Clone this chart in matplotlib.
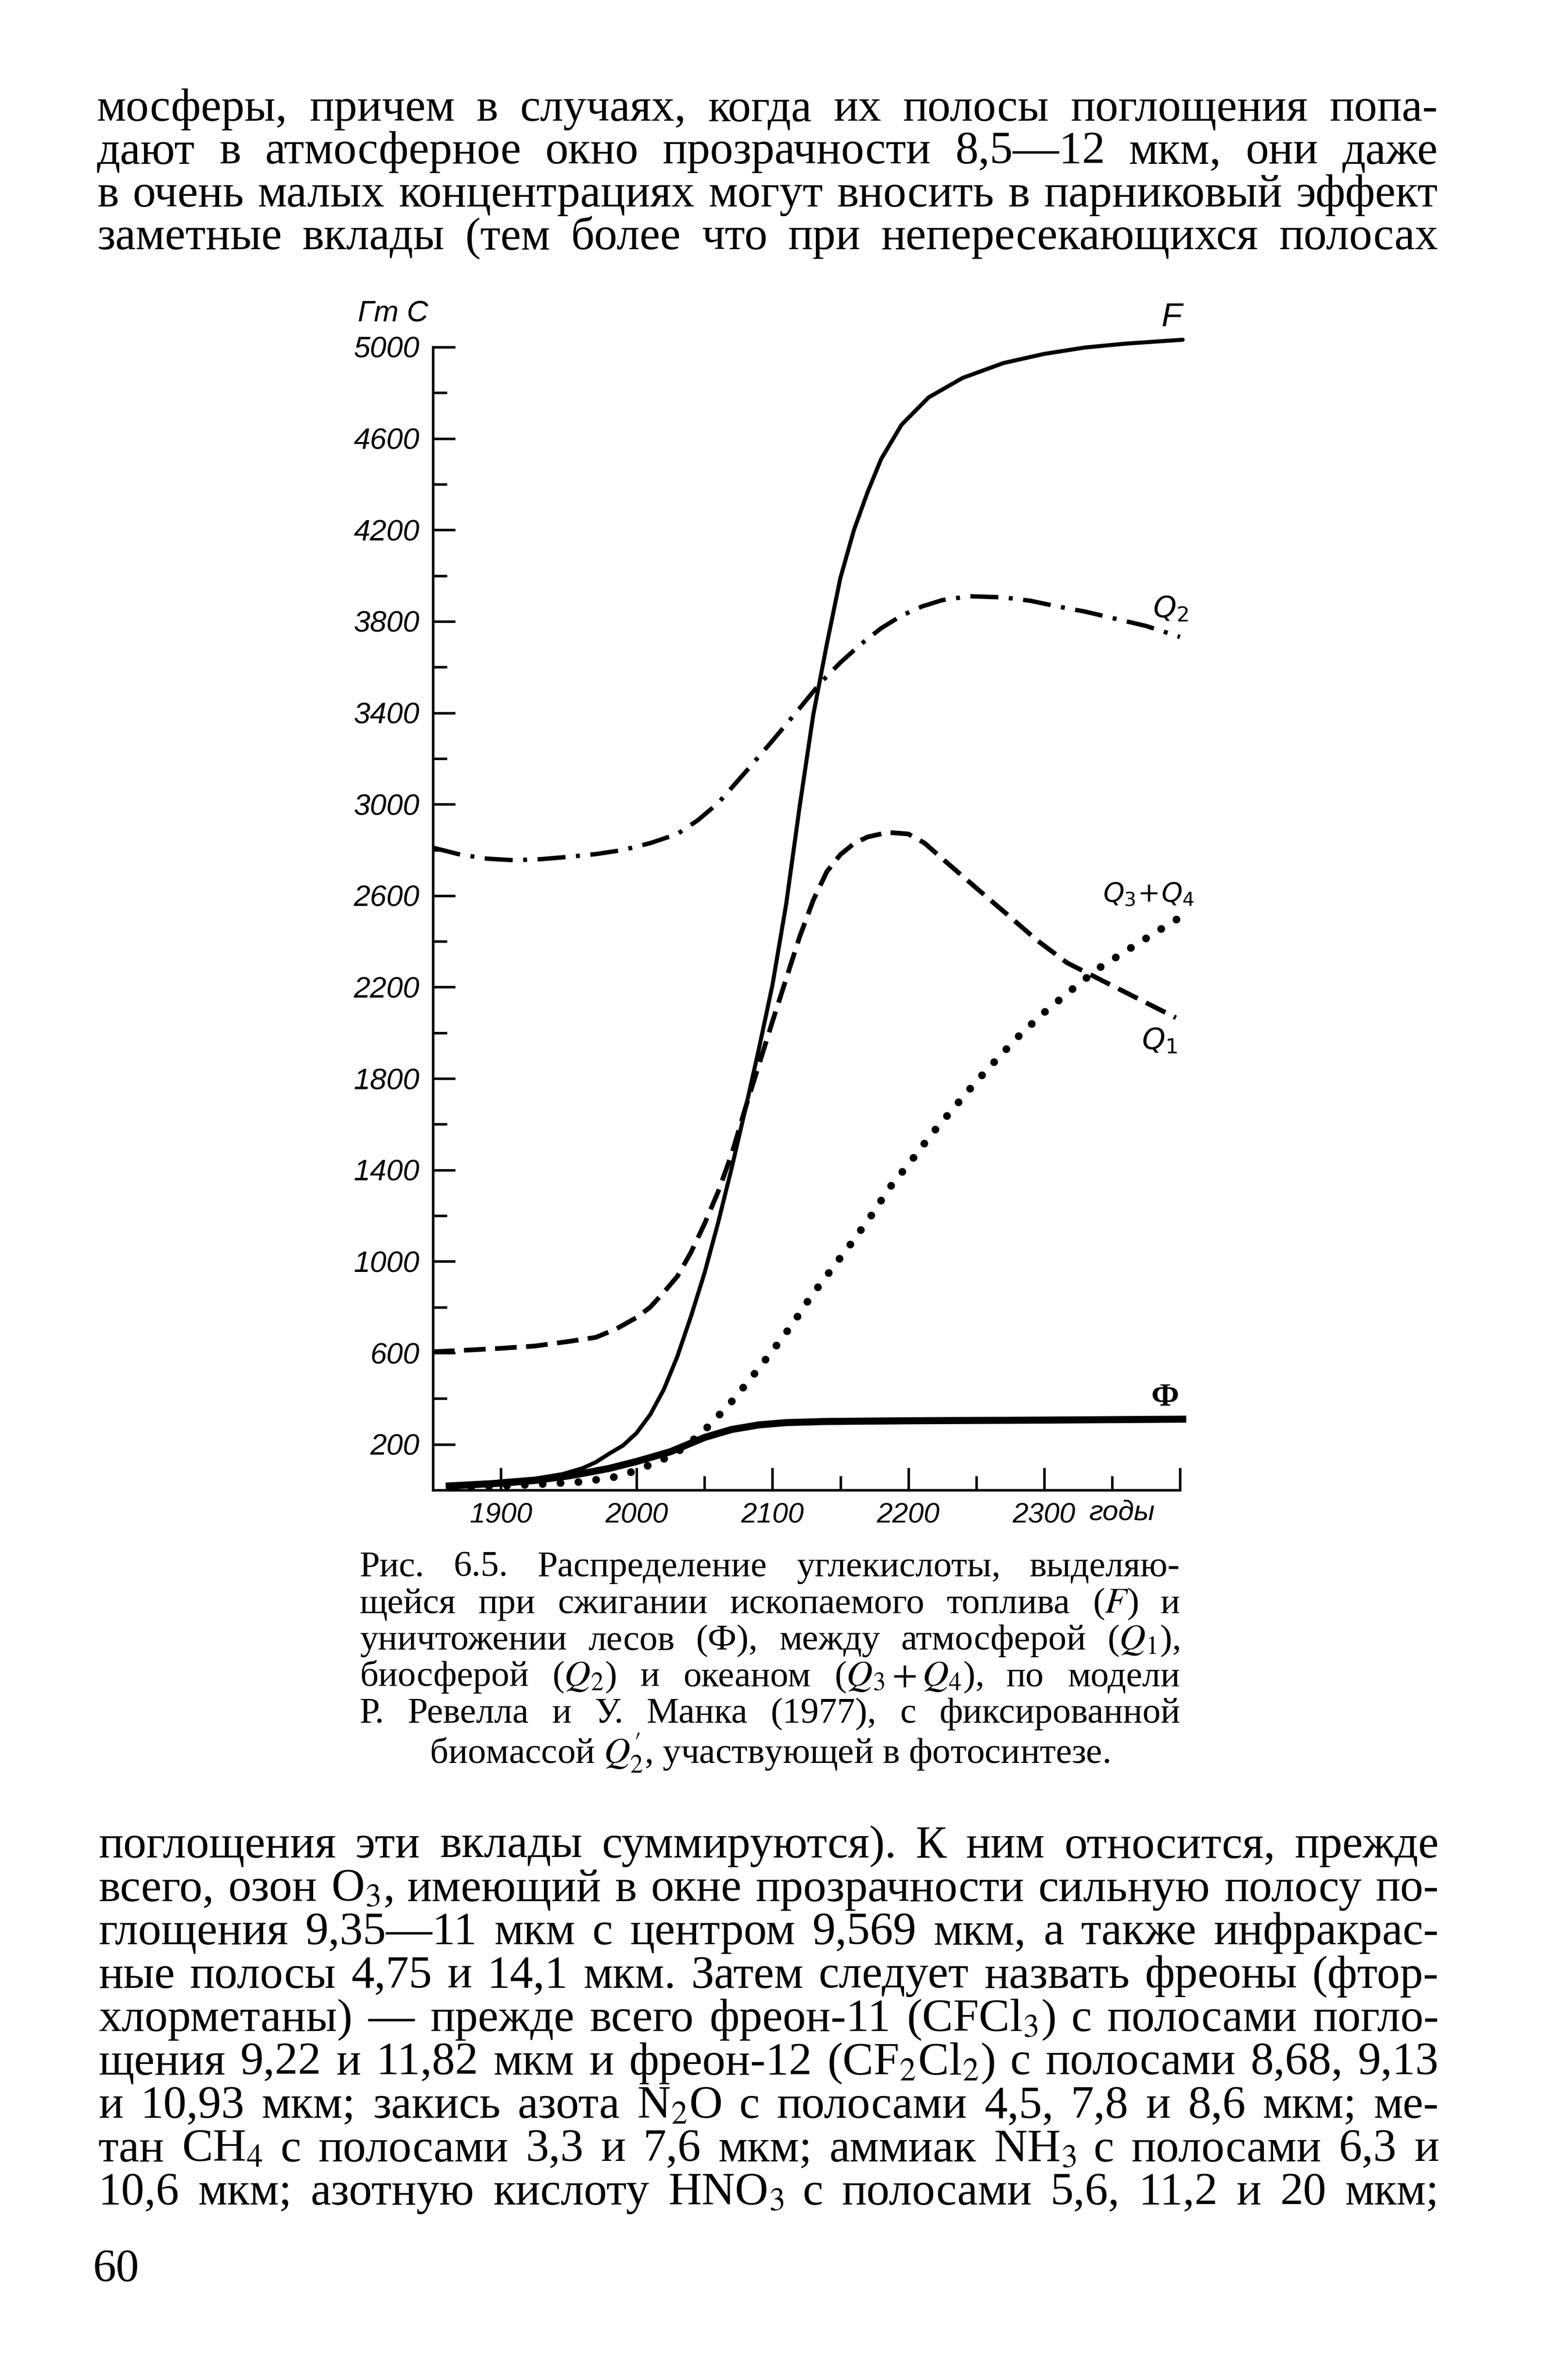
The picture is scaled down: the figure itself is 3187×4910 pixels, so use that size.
import matplotlib
matplotlib.use('Agg')
import matplotlib.pyplot as plt

W, H = 3187, 4910

# текст страницы
TOP_LINES = [
    "мосферы, причем в случаях, когда их полосы поглощения попа-",
    "дают в атмосферное окно прозрачности 8,5—12 мкм, они даже",
    "в очень малых концентрациях могут вносить в парниковый эффект",
    "заметные вклады (тем более что при непересекающихся полосах",
]
CAPTION_LINES = [
    "Рис. 6.5. Распределение углекислоты, выделяю-",
    "щейся при сжигании ископаемого топлива ($F$) и",
    "уничтожении лесов (Ф), между атмосферой ($Q_1$),",
    "биосферой ($Q_2$) и океаном ($Q_3+Q_4$), по модели",
    "Р. Ревелла и У. Манка (1977), с фиксированной",
]
CAPTION_LAST = r"биомассой $Q^{\prime}_2$, участвующей в фотосинтезе."
BOTTOM_LINES = [
    "поглощения эти вклады суммируются). К ним относится, прежде",
    "всего, озон O$_3$, имеющий в окне прозрачности сильную полосу по-",
    "глощения 9,35—11 мкм с центром 9,569 мкм, а также инфракрас-",
    "ные полосы 4,75 и 14,1 мкм. Затем следует назвать фреоны (фтор-",
    "хлорметаны) — прежде всего фреон-11 (CFCl$_3$) с полосами погло-",
    "щения 9,22 и 11,82 мкм и фреон-12 (CF$_2$Cl$_2$) с полосами 8,68, 9,13",
    "и 10,93 мкм; закись азота N$_2$O с полосами 4,5, 7,8 и 8,6 мкм; ме-",
    "тан CH$_4$ с полосами 3,3 и 7,6 мкм; аммиак NH$_3$ с полосами 6,3 и",
    "10,6 мкм; азотную кислоту HNO$_3$ с полосами 5,6, 11,2 и 20 мкм;",
]
PAGE_NO = "60"

# данные рисунка, Гт С по годам
F_YEARS = [1862, 1880, 1900, 1925, 1945, 1960, 1970, 1980, 1990, 2000, 2010, 2020,
           2030, 2040, 2050, 2060, 2070, 2080, 2090, 2100, 2110, 2120, 2130, 2140,
           2150, 2160, 2170, 2180, 2195, 2215, 2240, 2270, 2300, 2330, 2360, 2402]
F_VALS = [15, 25, 38, 50, 69, 95, 122, 160, 195, 250, 330, 440,
          585, 760, 950, 1170, 1410, 1665, 1930, 2210, 2560, 2990, 3390, 3700,
          3990, 4200, 4365, 4510, 4660, 4780, 4865, 4930, 4970, 4998, 5015, 5032]

PHI_YEARS = [1862, 1900, 1925, 1950, 1965, 1980, 2000, 2025, 2050, 2070, 2090,
             2110, 2140, 2200, 2300, 2402]
PHI_VALS = [18, 30, 42, 62, 78, 95, 125, 168, 230, 265, 285,
            295, 300, 303, 306, 310]

Q1_YEARS = [1850, 1875, 1900, 1925, 1950, 1970, 1985, 2000, 2010, 2020, 2030, 2040,
            2050, 2060, 2070, 2080, 2090, 2100, 2110, 2120, 2130, 2140, 2150, 2160,
            2170, 2185, 2200, 2212, 2226, 2249, 2272, 2295, 2317, 2340, 2363, 2397]
Q1_VALS = [605, 612, 620, 630, 650, 668, 705, 755, 800, 865, 935, 1040,
           1165, 1305, 1470, 1670, 1860, 2050, 2235, 2420, 2580, 2705, 2780, 2828,
           2857, 2877, 2870, 2830, 2757, 2639, 2522, 2404, 2306, 2237, 2168, 2066]

Q2_YEARS = [1850, 1870, 1890, 1910, 1930, 1950, 1970, 1990, 2010, 2030, 2045, 2060,
            2080, 2100, 2120, 2135, 2150, 2165, 2180, 2195, 2210, 2225, 2245, 2270,
            2290, 2310, 2330, 2350, 2375, 2400]
Q2_VALS = [2810, 2780, 2762, 2755, 2760, 2770, 2782, 2800, 2830, 2870, 2930, 3005,
           3140, 3278, 3420, 3529, 3620, 3700, 3770, 3825, 3865, 3893, 3910, 3905,
           3890, 3865, 3843, 3815, 3780, 3732]

Q34_YEARS = [1865, 1900, 1930, 1960, 1985, 2000, 2020, 2035, 2050, 2068, 2084, 2100,
             2115, 2128, 2143, 2158, 2173, 2186, 2202, 2217, 2233, 2249, 2266, 2283,
             2301, 2321, 2340, 2361, 2382, 2403]
Q34_VALS = [10, 18, 26, 36, 58, 86, 136, 185, 262, 373, 488, 609,
            728, 844, 962, 1079, 1203, 1321, 1439, 1556, 1668, 1780, 1890, 1996,
            2094, 2192, 2282, 2361, 2439, 2516]

Y_TICKS = list(range(200, 5001, 400))
Y_MINOR = list(range(400, 4801, 400))
X_TICKS = [1900, 2000, 2100, 2200, 2300, 2400]
X_LABELS = ['1900', '2000', '2100', '2200', '2300', '']
X_MINOR = [2050, 2150, 2250, 2350]

SERIF = ['Liberation Serif', 'DejaVu Serif']
SANS = ['Liberation Sans', 'DejaVu Sans']

plt.rcParams['font.family'] = SANS
plt.rcParams['mathtext.fontset'] = 'stix'

fig = plt.figure(figsize=(W / 100, H / 100), dpi=100)
fig.patch.set_facecolor('white')
renderer = fig.canvas.get_renderer()


def fy(y):
    # пиксель страницы сверху -> доля фигуры
    return 1 - y / H


def justify_block(lines, x0, x1, y0, step, max_size, min_gap=0.3):
    # выключка по ширине; кегль блока берётся по самой тесной строке
    rows = []
    size = max_size
    for i, line in enumerate(lines):
        words = line.split()
        texts = [fig.text(0, fy(y0 + step * i), w, fontsize=max_size, family=SERIF,
                          ha='left', va='baseline') for w in words]
        ww = sum(t.get_window_extent(renderer).width for t in texts)
        n = max(len(words) - 1, 1)
        # ширина слов растёт линейно с кеглем, пробел не меньше min_gap кегля
        s = (x1 - x0) / (ww / max_size + min_gap * 100 / 72 * n)
        size = min(size, s)
        rows.append(texts)
    for texts in rows:
        for t in texts:
            t.set_fontsize(size)
        widths = [t.get_window_extent(renderer).width for t in texts]
        gap = (x1 - x0 - sum(widths)) / max(len(texts) - 1, 1)
        x = x0
        for t, w in zip(texts, widths):
            t.set_x(x / W)
            x += w + gap
    return size


# текст над рисунком
justify_block(TOP_LINES, 200, 2966, 249, 88.4, 70)

# подпись
cap_size = justify_block(CAPTION_LINES, 742, 2434, 3252, 75.5, 54)
fig.text(1588 / W, fy(3638), CAPTION_LAST, fontsize=cap_size, family=SERIF,
         ha='center', va='baseline')

# текст под рисунком
body_size = justify_block(BOTTOM_LINES, 203, 2968, 3832, 89.5, 70)
fig.text(192 / W, fy(4706), PAGE_NO, fontsize=body_size, family=SERIF,
         ha='left', va='baseline')

# график
ax = fig.add_axes([893 / W, fy(3074), (2434 - 893) / W, (3074 - 716) / H])
ax.set_xlim(1850, 2400)
ax.set_ylim(0, 5000)
ax.set_facecolor('none')
for s in ['top', 'right']:
    ax.spines[s].set_visible(False)
for s in ['left', 'bottom']:
    ax.spines[s].set_linewidth(3.8)

ax.set_yticks(Y_TICKS, [str(v) for v in Y_TICKS], fontsize=44, fontstyle='italic')
ax.set_yticks(Y_MINOR, minor=True)
ax.set_xticks(X_TICKS, X_LABELS, fontsize=42, fontstyle='italic')
ax.set_xticks(X_MINOR, minor=True)
ax.tick_params(which='major', direction='in', length=33, width=3.8)
ax.tick_params(which='minor', direction='in', length=21, width=3.8)
ax.tick_params(axis='y', pad=20)
ax.tick_params(axis='x', pad=18)

ax.plot(Q2_YEARS, Q2_VALS, color='black', lw=6.5, ls=(0, (6.4, 2.4, 0.9, 2.4)),
        clip_on=False)
ax.plot(Q1_YEARS, Q1_VALS, color='black', lw=7, ls=(0, (4.6, 2.0)), clip_on=False)
ax.plot(Q34_YEARS, Q34_VALS, color='black', lw=11.5, ls=(0, (0.01, 2.3)),
        dash_capstyle='round', clip_on=False)
ax.plot(F_YEARS, F_VALS, color='black', lw=6, solid_joinstyle='round',
        solid_capstyle='round', clip_on=False)
ax.plot(PHI_YEARS, PHI_VALS, color='black', lw=10.5, solid_joinstyle='round',
        clip_on=False)

ax.text(2394, 5130, 'F', fontsize=50, fontstyle='italic', ha='center', va='center')
ax.text(2393, 3854, r'$Q_2$', math_fontfamily='dejavusans', fontsize=44,
        ha='center', va='center')
ax.text(2377, 2605, r'$Q_3\!+\!Q_4$', math_fontfamily='dejavusans', fontsize=40,
        ha='center', va='center')
ax.text(2385, 1965, r'$Q_1$', math_fontfamily='dejavusans', fontsize=44,
        ha='center', va='center')
ax.text(2389, 403, 'Ф', fontsize=48, family=SERIF, fontweight='bold',
        ha='center', va='center')

fig.text(883 / W, fy(664), 'Гт С', fontsize=44, fontstyle='italic',
         ha='right', va='baseline')
fig.text(2315 / W, fy(3120), 'годы', fontsize=42, fontstyle='italic',
         ha='center', va='center')

fig.savefig('out.png', dpi=100, facecolor='white')
